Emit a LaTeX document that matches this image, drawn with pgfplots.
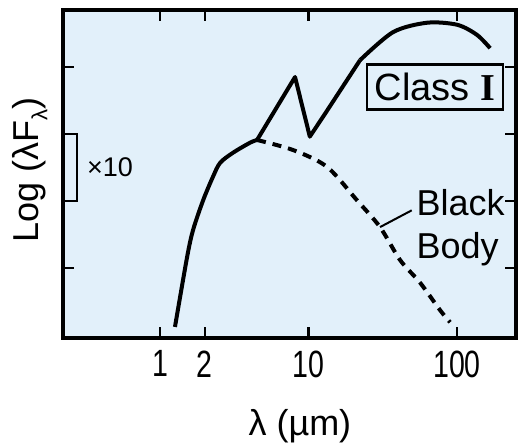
\documentclass[border=0pt]{standalone}
\usepackage{fontspec}
\setmainfont{Liberation Sans}
\newfontfamily\narrowf[FakeStretch=0.75]{Liberation Sans}
\newfontfamily\seriff{Liberation Serif}
\usepackage{pgfplots}
\pgfplotsset{compat=1.18}
\definecolor{bgblue}{RGB}{226,240,250}

\begin{document}
\begin{tikzpicture}
\begin{semilogxaxis}[name=ax, scale only axis, width=453pt, height=328pt,
  xmin=0.222, xmax=249.5, ymin=-0.045, ymax=4.85,
  axis background/.style={fill=bgblue},
  axis line style={line width=3.5pt},
  every outer x axis line/.append style={line width=3.5pt},
  every outer y axis line/.append style={line width=3.5pt},
  tick style={line width=2.5pt, black}, major tick length=11pt,
  tick align=inside, tick pos=both, minor tick num=0,
  xtick={1,2,10,100}, xticklabels={1,2,10,100},
  ytick={1,2,3,4}, yticklabels={},
  xticklabel style={font=\narrowf\fontsize{38}{38}\selectfont, yshift=-9pt},
  xlabel={λ (µm)}, ylabel={Log (λF\raisebox{-0.25em}{\fontsize{22}{22}\selectfont λ})},
  label style={font=\fontsize{36}{36}\selectfont},
  xlabel style={at={(axis description cs:0.523,-0.268)}, anchor=center},
  ylabel style={at={(axis description cs:-0.073,0.512)}, anchor=center, rotate=0},
  clip=false]
% class I spectrum: rise, silicate feature, far-IR hump
\addplot[black, line width=4pt, smooth, tension=0.5] coordinates {
  (1.26,0.12) (1.52,1.16) (1.67,1.57) (1.95,2.01) (2.27,2.36)
  (2.54,2.57) (3.10,2.72) (4.04,2.87) (4.50,2.91)};
\addplot[black, line width=4pt, line join=round] coordinates {
  (4.50,2.91) (8.11,3.85) (10.2,2.96) (12.9,3.30) (22.2,4.10)};
\addplot[black, line width=4pt, smooth, tension=0.5] coordinates {
  (22.2,4.10) (37.1,4.52) (62.8,4.66) (100,4.63) (136,4.48) (167,4.28)};
% black body
\addplot[black, line width=4pt, dash pattern=on 9pt off 7pt, smooth, tension=0.5] coordinates {
  (4.50,2.91) (7.87,2.76) (13.3,2.51) (21.2,2.01) (30.3,1.61) (41.3,1.12)
  (56.4,0.78) (76.9,0.37) (89.8,0.19)};
\draw[line width=2.5pt] (axis cs:0.222,3) -| (axis cs:0.276,2) -- (axis cs:0.222,2);
\node[font=\fontsize{27}{27}\selectfont] at (axis cs:0.46,2.51) {×10};
\node[draw, line width=2.5pt, inner xsep=8pt, inner ysep=9pt, text height=27pt, text depth=0pt,
  font=\fontsize{38}{38}\selectfont] at (axis cs:71.1,3.70) {Class {\seriff\bfseries I}};
\node[anchor=west, align=left, font=\fontsize{36}{43}\selectfont] at (axis cs:50.5,1.60) {Black\\Body};
\draw[line width=2pt] (axis cs:30.3,1.61) -- (axis cs:49.5,1.86);
\end{semilogxaxis}
\pgfresetboundingbox
\path ([xshift=-63pt,yshift=-104pt]ax.south west) rectangle ([xshift=2pt,yshift=10pt]ax.north east);
\end{tikzpicture}
\end{document}
